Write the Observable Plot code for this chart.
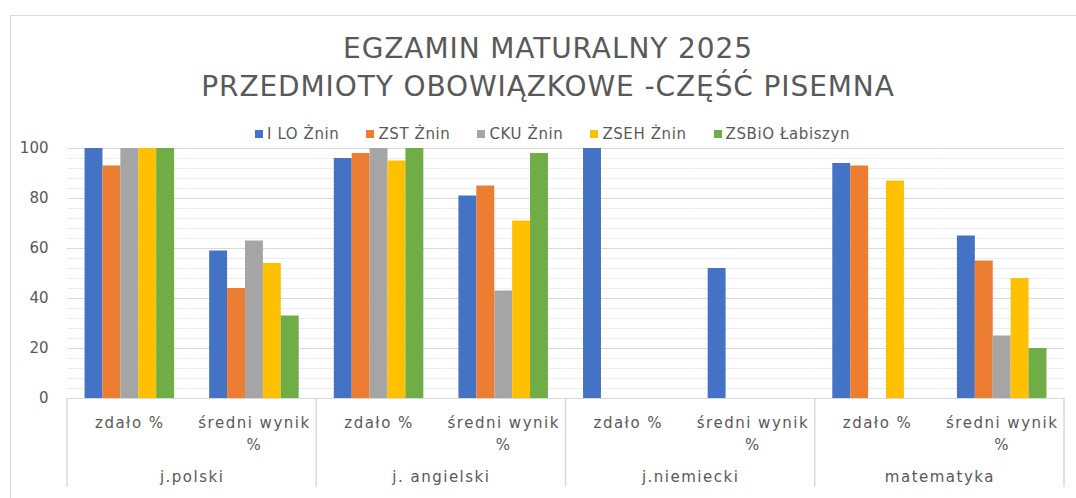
<!DOCTYPE html>
<html><head><meta charset="utf-8">
<script src="https://cdn.jsdelivr.net/npm/d3@7"></script>
<script src="https://cdn.jsdelivr.net/npm/@observablehq/plot@0.6"></script>
<style>
body{margin:0;background:#fff;font-family:"DejaVu Sans",sans-serif;color:#595959}
#wrap{position:relative;width:1076px;height:498px;overflow:hidden;background:#fff}
#frame{position:absolute;left:10px;top:15px;width:1200px;height:600px;border:1px solid #d9d9d9;box-sizing:border-box}
#title{position:absolute;left:0;width:1096px;top:30px;text-align:center;font-size:28px;line-height:38px;letter-spacing:0.9px;color:#595959}
#legend{position:absolute;left:255px;top:125px;display:flex;gap:27px;font-size:15px;letter-spacing:0.6px;line-height:18px;color:#595959}
#legend .item{display:flex;align-items:center;white-space:nowrap}
#legend .sw{display:inline-block;width:8px;height:8px;margin-right:4px}
#chart{position:absolute;left:0;top:120px}
#chart svg g[aria-label="text"] text{letter-spacing:1.5px}
</style>
</head><body>
<div id="wrap">
  <div id="frame"></div>
  <div id="title"></div>
  <div id="legend"></div>
  <div id="chart"></div>
</div>
<script>
const titleLines = ["EGZAMIN MATURALNY 2025", "PRZEDMIOTY OBOWIĄZKOWE -CZĘŚĆ PISEMNA"];
const schools = ["I LO Żnin", "ZST Żnin", "CKU Żnin", "ZSEH Żnin", "ZSBiO Łabiszyn"];
const colors = ["#4472C4", "#ED7D31", "#A5A5A5", "#FFC000", "#70AD47"];
const subjects = ["j.polski", "j. angielski", "j.niemiecki", "matematyka"];
const measures = ["zdało %", "średni wynik\n%"];
const yTicks = [0, 20, 40, 60, 80, 100];
// values per school, order: polski zdało, polski średni, angielski zdało, angielski średni, niemiecki zdało, niemiecki średni, matematyka zdało, matematyka średni
const valuesILO   = [100, 59, 96, 81, 100, 52, 94, 65];
const valuesZST   = [93, 44, 98, 85, null, null, 93, 55];
const valuesCKU   = [100, 63, 100, 43, null, null, null, 25];
const valuesZSEH  = [100, 54, 95, 71, null, null, 87, 48];
const valuesZSBiO = [100, 33, 100, 98, null, null, null, 20];
const seriesValues = [valuesILO, valuesZST, valuesCKU, valuesZSEH, valuesZSBiO];

// title & legend
document.getElementById("title").innerHTML = titleLines.map(t => `<div>${t}</div>`).join("");
document.getElementById("legend").innerHTML = schools.map((s, i) =>
  `<span class="item"><span class="sw" style="background:${colors[i]}"></span>${s}</span>`).join("");

const categories = subjects.flatMap(s => measures.map(m => ({key: s + "|" + m, subject: s, label: m})));
const catKeys = categories.map(c => c.key);
const groups = subjects.map(s => ({label: s, first: s + "|" + measures[0]}));
const rows = [];
seriesValues.forEach((vals, si) => vals.forEach((v, ci) => {
  if (v != null) rows.push({school: schools[si], cat: catKeys[ci], value: v});
}));
const minorTicks = d3.range(0, 101, 4).filter(v => v % 20 !== 0);

const chart = Plot.plot({
  width: 1076, height: 378,
  marginLeft: 67, marginRight: 12, marginTop: 28, marginBottom: 100,
  style: {fontFamily: "DejaVu Sans", fontSize: "15px", color: "#595959", background: "transparent", overflow: "visible"},
  fx: {domain: catKeys, padding: 0, round: false, axis: null, label: null},
  x: {domain: schools, paddingInner: 0, paddingOuter: 0.98, round: false, axis: null},
  y: {domain: [0, 100], axis: null},
  color: {domain: schools, range: colors},
  marks: [
    Plot.gridY(minorTicks, {stroke: "#ededed", strokeOpacity: 1}),
    Plot.gridY(yTicks, {stroke: "#d9d9d9", strokeOpacity: 1}),
    Plot.barY(rows, {fx: "cat", x: "school", y: "value", fill: "school"}),
    Plot.ruleY([0], {stroke: "#d9d9d9"}),
    Plot.axisY(yTicks, {tickSize: 0, tickPadding: 19, fontSize: 15, label: null, facetAnchor: "left"}),
    Plot.text(categories, {fx: "key", text: "label", frameAnchor: "bottom", lineAnchor: "top", dy: 14, fontSize: 15, lineHeight: 1.45, fill: "#595959"}),
    Plot.text(groups, {fx: "first", text: "label", frameAnchor: "bottom-right", textAnchor: "middle", lineAnchor: "top", dy: 73, fontSize: 15, fill: "#595959"})
  ]
});
document.getElementById("chart").appendChild(chart);

// category-group separators using the chart's own scales
const svgEl = chart.tagName.toLowerCase() === "svg" ? chart : chart.querySelector("svg");
const fxs = chart.scale("fx");
const ys = chart.scale("y");
const band = d3.scaleBand().domain(fxs.domain).range(fxs.range)
  .paddingInner(fxs.paddingInner ?? 0).paddingOuter(fxs.paddingOuter ?? 0).align(fxs.align ?? 0.5);
const yLin = d3.scaleLinear(ys.domain, ys.range);
const y0 = yLin(0);
const edges = groups.map(g => band(g.first)).concat([band(catKeys[catKeys.length - 1]) + band.bandwidth()]);
d3.select(svgEl).append("g").selectAll("line").data(edges).join("line")
  .attr("x1", d => d).attr("x2", d => d)
  .attr("y1", y0).attr("y2", y0 + 89)
  .attr("stroke", "#d9d9d9").attr("stroke-width", 1.5);
</script>
</body></html>
